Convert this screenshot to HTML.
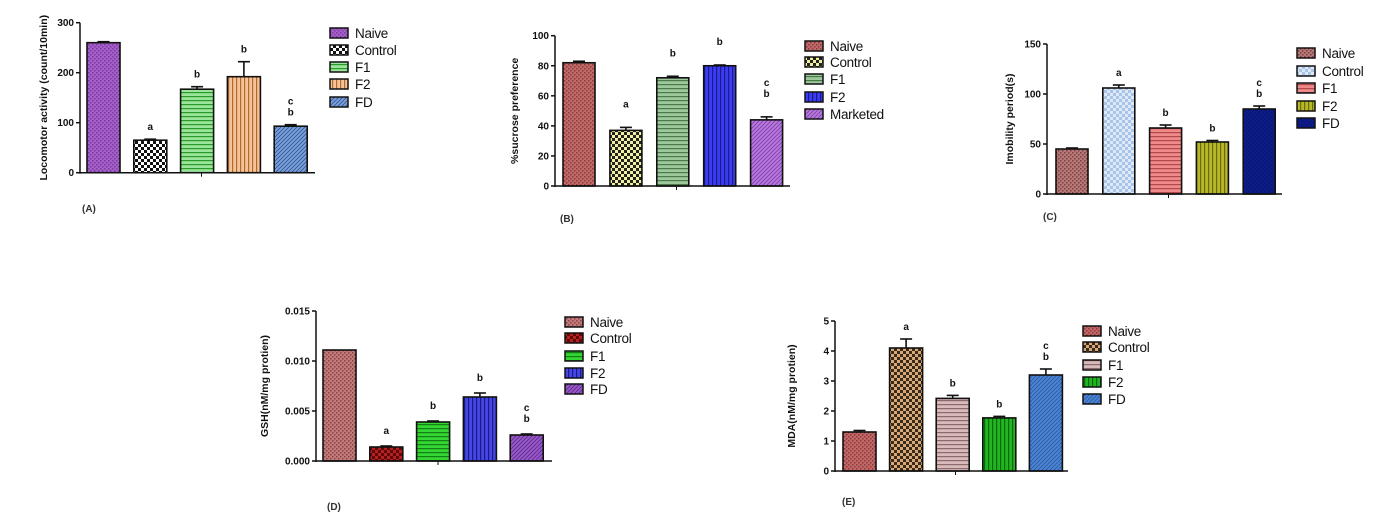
<!DOCTYPE html>
<html><head><meta charset="utf-8">
<style>
html,body{margin:0;padding:0;background:#fff;}
svg{display:block;font-family:"Liberation Sans",Arial,sans-serif;}
</style></head>
<body>
<svg id="fig" width="1379" height="516" viewBox="0 0 1379 516" xmlns="http://www.w3.org/2000/svg">
<defs id="defs"></defs>
</svg>
<script>
// ---- Panel data ----
const catsA = ["Naive","Control","F1","F2","FD"];
const valsA = [260, 65, 167, 192, 93];
const errsA = [2, 2, 5, 30, 3];
const lettersA = ["", "a", "b", "b", "c b"];
const ticksA = [0, 100, 200, 300];

const catsB = ["Naive","Control","F1","F2","Marketed"];
const valsB = [82, 37, 72, 80, 44];
const errsB = [1, 2, 1, 0.5, 2];
const lettersB = ["", "a", "b", "b", "c b"];
const ticksB = [0, 20, 40, 60, 80, 100];

const catsC = ["Naive","Control","F1","F2","FD"];
const valsC = [45, 106, 66, 52, 85];
const errsC = [1, 3, 3, 1.5, 3];
const lettersC = ["", "a", "b", "b", "c b"];
const ticksC = [0, 50, 100, 150];

const catsD = ["Naive","Control","F1","F2","FD"];
const valsD = [0.0111, 0.0014, 0.0039, 0.0064, 0.0026];
const errsD = [0, 0.0001, 0.0001, 0.0004, 0.0001];
const lettersD = ["", "a", "b", "b", "c b"];
const ticksD = [0, 0.005, 0.010, 0.015];

const catsE = ["Naive","Control","F1","F2","FD"];
const valsE = [1.3, 4.1, 2.42, 1.77, 3.2];
const errsE = [0.05, 0.3, 0.1, 0.05, 0.2];
const lettersE = ["", "a", "b", "b", "c b"];
const ticksE = [0, 1, 2, 3, 4, 5];

const NS = "http://www.w3.org/2000/svg";
const svg = document.getElementById('fig');
const defs = document.getElementById('defs');
let pid = 0;

function mk(tag, attrs, parent){
  const e = document.createElementNS(NS, tag);
  for (const k in attrs) e.setAttribute(k, attrs[k]);
  (parent || svg).appendChild(e);
  return e;
}

function pattern(type, c1, c2){
  const id = 'p' + (pid++);
  const s = type==='check' ? 6 : 4;
  const p = mk('pattern', {id:id, width:s, height:s, patternUnits:'userSpaceOnUse'}, defs);
  mk('rect', {x:0,y:0,width:s,height:s,fill:c1}, p);
  if (type==='dots'){ mk('rect',{x:0,y:0,width:1.5,height:1.5,fill:c2},p); mk('rect',{x:2,y:2,width:1.5,height:1.5,fill:c2},p); }
  else if (type==='check'){ mk('rect',{x:0,y:0,width:3,height:3,fill:c2},p); mk('rect',{x:3,y:3,width:3,height:3,fill:c2},p); }
  else if (type==='h'){ mk('rect',{x:0,y:0,width:s,height:1.2,fill:c2},p); }
  else if (type==='v'){ mk('rect',{x:0,y:0,width:1.2,height:s,fill:c2},p); }
  else if (type==='d'){ mk('path',{d:'M-1,5 L5,-1 M-1,1 L1,-1 M3,5 L5,3',stroke:c2,'stroke-width':0.8},p); }
  return 'url(#'+id+')';
}

function panel(o){
  const g = mk('g', {});
  
  
  const ymax = o.ticks[o.ticks.length-1];
  const y = v => o.y0 - (v/ymax)*(o.y0 - o.ytop);
  const bx = i => o.bx0 + i*o.pitch;
  // bars
  o.cats.forEach((c,i)=>{
    const fill = pattern(o.styles[i][0], o.styles[i][1], o.styles[i][2]);
    const top = y(o.vals[i]);
    const r = mk('rect',{x:bx(i),y:top,width:o.bw,height:o.y0-top,fill:fill,stroke:'#111','stroke-width':1.6},g);
    
    
    const cx = bx(i)+o.bw/2;
    if (o.errs[i] > 0){
      const et = y(o.vals[i]+o.errs[i]);
      mk('line',{x1:cx,y1:top,x2:cx,y2:et,stroke:'#111','stroke-width':1.6},g);
      mk('line',{x1:cx-6,y1:et,x2:cx+6,y2:et,stroke:'#111','stroke-width':1.6},g);
    }
    const lt = o.letters[i].split(' ');
    let base = y(o.vals[i]+o.errs[i]) - o.loff;
    for (let k=lt.length-1;k>=0;k--){
      if(!lt[k]) continue;
      const t = mk('text',{x:cx,y:base,'font-size':10,'font-weight':'bold','text-anchor':'middle',fill:'#111'},g);
      t.textContent = lt[k];
      
      
      base -= 11;
    }
  });
  // axes
  const ax = mk('line',{x1:o.ax,y1:o.ytop,x2:o.ax,y2:o.y0+1,stroke:'#111','stroke-width':1.5},g);
  
  
  const xa = mk('line',{x1:o.ax,y1:o.y0,x2:o.xend,y2:o.y0,stroke:'#111','stroke-width':1.5},g);
  
  
  const mid = (o.ax+o.xend)/2 + 4;
  mk('line',{x1:mid,y1:o.y0,x2:mid,y2:o.y0+4,stroke:'#111','stroke-width':1},g);
  o.ticks.forEach(tv=>{
    const ty = y(tv);
    mk('line',{x1:o.ax-4,y1:ty,x2:o.ax,y2:ty,stroke:'#111','stroke-width':1.5},g);
    const t = mk('text',{x:o.ax-6,y:ty+3.5,'font-size':10,'font-weight':'bold','text-anchor':'end',fill:'#111'},g);
    t.textContent = o.tickFmt(tv);
    
    
  });
  const yt = mk('text',{x:0,y:0,'font-size':10.5,'font-weight':'bold','text-anchor':'middle',fill:'#111',
    transform:'translate('+o.ytx+','+((o.ytop+o.y0)/2)+') rotate(-90)'},g);
  yt.textContent = o.ytitle;
  
  
  // legend
  o.cats.forEach((c,i)=>{
    const ly = o.ly[i];
    const fill = pattern(o.styles[i][0], o.styles[i][1], o.styles[i][2]);
    const sw = mk('rect',{x:o.lx,y:ly-5,width:18,height:10,fill:fill,stroke:'#111','stroke-width':1.5},g);
    
    
    const t = mk('text',{x:o.lx+25,y:ly+5,'font-size':13.5,fill:'#111','letter-spacing':'-0.3'},g);
    t.textContent = c;
    
    
  });
  const pl = mk('text',{x:o.plx,y:o.ply,'font-size':10,'font-weight':'bold',fill:'#333'},g);
  pl.textContent = o.plabel;
  
  
}

const intFmt = v => String(v);
panel({name:'panel-a', cats:catsA, vals:valsA, errs:errsA, letters:lettersA, ticks:ticksA, tickFmt:intFmt,
  ax:80, ytop:22.7, y0:172.7, xend:315, bx0:87, pitch:46.8, bw:33, loff:9,
  ytitle:'Locomotor activity (count/10min)', ytx:47, lx:330, ly:[33,50,67,84,102],
  plabel:'(A)', plx:82, ply:212,
  styles:[['dots','#a55fc8','#7a3aa0'],['check','#ffffff','#111111'],['h','#9be59b','#2a9a2a'],['v','#f7c49a','#b06a30'],['d','#7aa0dc','#33558f']]});

panel({name:'panel-b', cats:catsB, vals:valsB, errs:errsB, letters:lettersB, ticks:ticksB, tickFmt:intFmt,
  ax:555, ytop:35.7, y0:186, xend:790, bx0:563, pitch:46.9, bw:32, loff:20,
  ytitle:'%sucrose preference', ytx:518, lx:805, ly:[46,62,79,97,114],
  plabel:'(B)', plx:560, ply:222,
  styles:[['dots','#c06a6a','#8a3a3a'],['check','#f0f0a0','#222222'],['h','#9cc89c','#4a7a4a'],['v','#3c3cf2','#1a1a90'],['d','#b878dc','#7a40a8']]});

panel({name:'panel-c', cats:catsC, vals:valsC, errs:errsC, letters:lettersC, ticks:ticksC, tickFmt:intFmt,
  ax:1047, ytop:44, y0:194, xend:1282, bx0:1056, pitch:46.8, bw:32, loff:9,
  ytitle:'Imobility period(s)', ytx:1013, lx:1297, ly:[53,71,88,106,123],
  plabel:'(C)', plx:1043, ply:220,
  styles:[['dots','#b87878','#7a4040'],['check','#dde9f7','#a8c4e8'],['h','#f08a8a','#b04a4a'],['v','#b8b826','#6a6a10'],['d','#0c1c8c','#08146a']]});

panel({name:'panel-d', cats:catsD, vals:valsD, errs:errsD, letters:lettersD, ticks:ticksD, tickFmt:v=>v.toFixed(3),
  ax:316, ytop:311, y0:461, xend:552, bx0:323, pitch:46.8, bw:33, loff:12,
  ytitle:'GSH(nM/mg protien)', ytx:268, lx:565, ly:[322,338,356,373,389],
  plabel:'(D)', plx:327, ply:510,
  styles:[['dots','#c27a7a','#8a4444'],['check','#b82020','#5a0a0a'],['h','#34d634','#128012'],['v','#4646e4','#1a1a8a'],['d','#9858c8','#5a2a8a']]});

panel({name:'panel-e', cats:catsE, vals:valsE, errs:errsE, letters:lettersE, ticks:ticksE, tickFmt:intFmt,
  ax:835, ytop:321, y0:471, xend:1068, bx0:843, pitch:46.6, bw:33, loff:9,
  ytitle:'MDA(nM/mg protien)', ytx:795, lx:1083, ly:[331,347,365,382,399],
  plabel:'(E)', plx:842, ply:505,
  styles:[['dots','#c26868','#8a3a3a'],['check','#d8a878','#3a2a1a'],['h','#d8baba','#8a6a6a'],['v','#22b422','#0a6a0a'],['d','#4c84d4','#2a5aa0']]});
</script>
</body></html>
